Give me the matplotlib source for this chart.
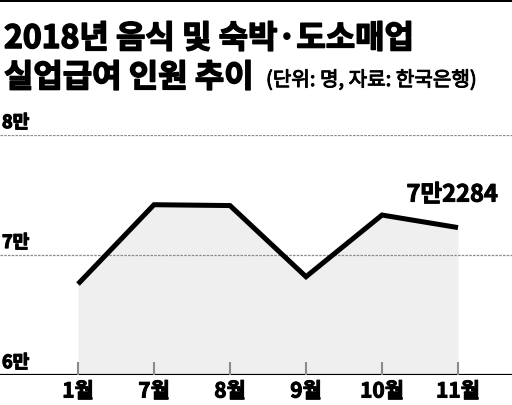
import matplotlib
matplotlib.use("Agg")
import matplotlib.pyplot as plt
import matplotlib.patheffects as pe
from matplotlib.patches import Rectangle

plt.rcParams['font.family'] = ['Noto Sans CJK KR', 'DejaVu Sans']

# 데이터
months = ['1월', '7월', '8월', '9월', '10월', '11월']
values = [67580, 74190, 74120, 68190, 73330, 72284]
ytick_vals = [60000, 70000, 80000]
ytick_labels = ['6만', '7만', '8만']
last_label = '7만2284'

title1 = '2018년 음식 및 숙박·도소매업'
title2 = '실업급여 인원 추이'
subtitle = '(단위: 명, 자료: 한국은행)'

fig = plt.figure(figsize=(5.12, 4.06), dpi=100)
W, H = 512, 406

heavy = [pe.withStroke(linewidth=1.1, foreground='black')]
semi = [pe.withStroke(linewidth=0.7, foreground='black')]

# 상단 굵은 선
fig.add_artist(Rectangle((0, 1 - 3 / H), 1, 3 / H, transform=fig.transFigure,
                         color='black', lw=0))

fig.text(4 / W, 1 - 49 / H, title1, fontsize=23, fontweight='heavy',
         va='baseline', path_effects=heavy)
fig.text(4 / W, 1 - 88 / H, title2, fontsize=23, fontweight='heavy',
         va='baseline', path_effects=heavy)
fig.text(266 / W, 1 - 87 / H, subtitle, fontsize=14.5, va='baseline',
         path_effects=semi)

# 플롯 영역: 6만=376px, 8만=136px
ax = fig.add_axes([0, (H - 376) / H, 1, 240 / H])
x = list(range(len(months)))
ax.set_xlim(-78 / 76, (W - 78) / 76)
ax.set_ylim(60000, 80000)
for s in ax.spines.values():
    s.set_visible(False)

ax.fill_between(x, values, 60000, color='#efefef', lw=0)
for v in ytick_vals[1:]:
    ax.axhline(v, color='#8a8a8a', lw=0.9, ls=(0, (2, 1)))
ax.axhline(60000, color='black', lw=1.6)
ax.vlines(x, 60000, 61100, color='#8a8a8a', lw=1.5)
ax.plot(x, values, color='black', lw=3.6, solid_joinstyle='miter',
        solid_capstyle='butt', clip_on=False)

for v, lab in zip(ytick_vals, ytick_labels):
    ax.annotate(lab, xy=(0, v), xycoords=('axes fraction', 'data'),
                xytext=(2, 3), textcoords='offset pixels',
                fontsize=13, fontweight='bold', va='bottom', ha='left',
                path_effects=[pe.withStroke(linewidth=0.9, foreground='black')])

ax.annotate(last_label, xy=(x[-1], values[-1]), xytext=(40, 33),
            textcoords='offset pixels', fontsize=17, fontweight='bold',
            ha='right', va='center', path_effects=semi)

ax.set_xticks(x, months)
ax.set_yticks([])
ax.tick_params(axis='x', length=0, pad=4, labelsize=15)
for t in ax.get_xticklabels():
    t.set_fontweight('bold')
    t.set_path_effects(semi)

fig.savefig('out.png', dpi=100)
